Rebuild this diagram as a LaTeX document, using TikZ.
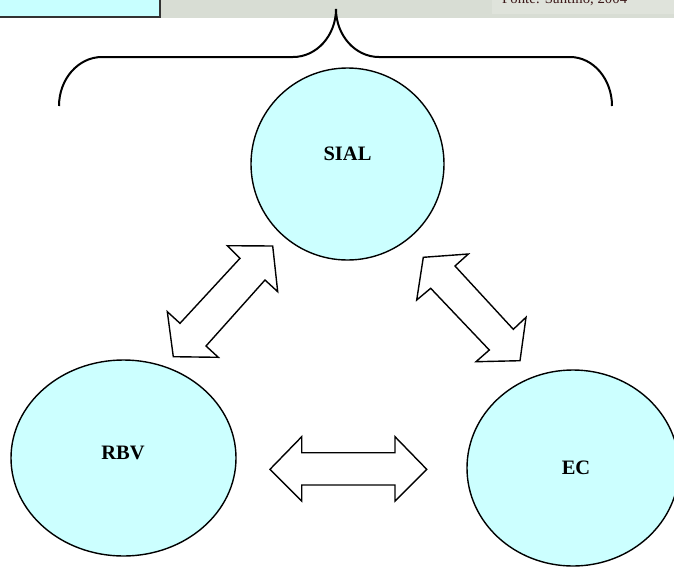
\documentclass[tikz,border=0pt]{standalone}
\usepackage{fontspec}
\setmainfont{Liberation Serif}
\usetikzlibrary{shapes.geometric}
\definecolor{bandgray}{RGB}{216,221,212}
\definecolor{bandlight}{RGB}{223,227,219}
\definecolor{boxcyan}{RGB}{200,255,255}
\definecolor{bubble}{RGB}{204,255,255}
\definecolor{srcbrown}{RGB}{60,25,25}
\tikzset{
  bubblenode/.style={ellipse, draw=black, fill=bubble, line width=1.4pt, inner sep=0pt},
  bubbletext/.style={font=\fontsize{20.5}{24}\selectfont\bfseries, inner sep=0pt},
  blockarrow/.style={draw=black, fill=white, line width=1.4pt, line join=miter},
  bracestroke/.style={draw=black, line width=2pt, line cap=butt}
}
\begin{document}
\begin{tikzpicture}[x=1pt, y=-1pt]
\useasboundingbox (0,0) rectangle (674,568);
\clip (0,0) rectangle (674,568);

% header strip with its caption box and source note
\fill[bandgray] (0,-2) rectangle (674,18);
\fill[bandlight] (492,-2) rectangle (674,14);
\draw[fill=boxcyan, draw=black!80, line width=1.5pt] (-3,-5) rectangle (160,17);
\node[anchor=base west, inner sep=0pt, text=srcbrown, font=\fontsize{14.8}{16}\selectfont] (src) at (502,3) {Fonte: Santino, 2004};

% curly brace over the three concepts
\path[bracestroke]
  (59,106) .. controls (59,79) and (78.3,57) .. (102,57)
  -- (293,57)
  .. controls (316.7,57) and (336,35.5) .. (336,9)
  .. controls (336,35.5) and (355.3,57) .. (379,57)
  -- (570,57)
  .. controls (593.2,57) and (612,79) .. (612,106);

% the three concepts
\node[bubblenode, minimum width=193pt, minimum height=192pt] (sial) at (347.5,164) {};
\node[bubblenode, minimum width=225pt, minimum height=196pt] (rbv) at (123.5,458) {};
\node[bubblenode, minimum width=212pt, minimum height=196pt] (ec) at (573,468) {};
\node[bubbletext] (sialtxt) at (347.5,154) {SIAL};
\node[bubbletext] (rbvtxt) at (123,452.5) {RBV};
\node[bubbletext] (ectxt) at (576,468) {EC};

% two-way links between the concepts
\draw[blockarrow] (272.7,246) -- (277.7,291.7) -- (265,280) -- (206,346) -- (218.3,357.3)
  -- (173.3,356.7) -- (167.3,311.7) -- (180,323.3) -- (240,258.3) -- (227.3,245.7) -- cycle;
\draw[blockarrow] (423.3,257.3) -- (468.3,254) -- (455,266) -- (513.3,329.3) -- (526,317.3)
  -- (520,360.7) -- (476,361.7) -- (489.3,350) -- (430.7,288.3) -- (416.7,300) -- cycle;
\draw[blockarrow] (270,469.3) -- (301.7,436.7) -- (301.7,452.7) -- (395,452.7) -- (395,436.7)
  -- (426.7,469.3) -- (395,501) -- (395,485) -- (301.7,485) -- (301.7,501) -- cycle;
\end{tikzpicture}
\end{document}
